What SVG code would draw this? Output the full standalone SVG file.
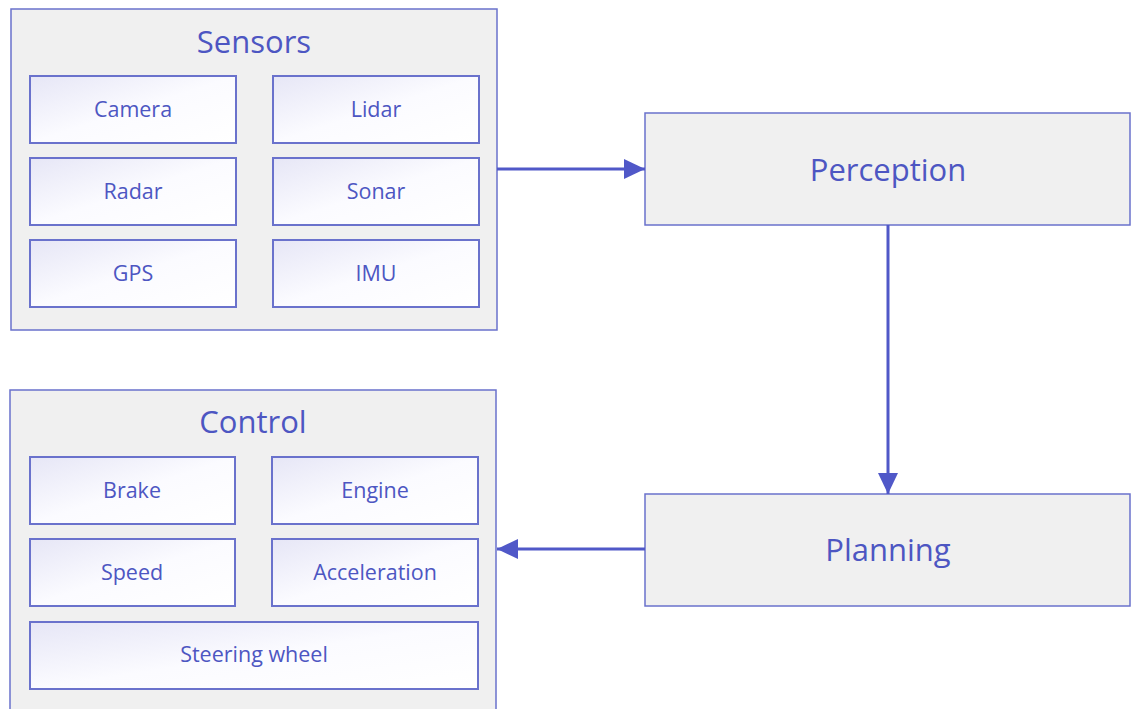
<svg xmlns="http://www.w3.org/2000/svg" width="1131" height="709" viewBox="0 0 1131 709">
<defs>
<linearGradient id="g" x1="0" y1="0" x2="1" y2="1">
<stop offset="0" stop-color="#e6e6f6"/>
<stop offset="0.5" stop-color="#fbfbff"/>
<stop offset="1" stop-color="#ffffff"/>
</linearGradient>
<marker id="ah" markerWidth="22" markerHeight="20" refX="21" refY="10" orient="auto" markerUnits="userSpaceOnUse">
<path d="M0,0 L21,10 L0,20 Z" fill="#5058c8"/>
</marker>
<style>
.outer{fill:#f0f0f0;stroke:#6a72cc;stroke-width:1.5}
.inner{fill:url(#g);stroke:#6a72cc;stroke-width:2}
.title{font-family:"Open Sans","Noto Sans",sans-serif;font-size:31px;fill:#4d56c2;text-anchor:middle}
.lbl{font-family:"Open Sans","Noto Sans",sans-serif;font-size:21.5px;fill:#4d56c2;text-anchor:middle}
.conn{stroke:#5058c8;stroke-width:3;fill:none}
</style>
</defs>
<rect width="1131" height="709" fill="#ffffff"/>
<g id="sensors">
<rect class="outer" x="11" y="9" width="486" height="321"/>
<text class="title" x="254" y="53">Sensors</text>
<g id="camera"><rect class="inner" x="30" y="76" width="206" height="67"/><text class="lbl" x="133" y="117">Camera</text></g>
<g id="lidar"><rect class="inner" x="273" y="76" width="206" height="67"/><text class="lbl" x="376" y="117">Lidar</text></g>
<g id="radar"><rect class="inner" x="30" y="158" width="206" height="67"/><text class="lbl" x="133" y="199">Radar</text></g>
<g id="sonar"><rect class="inner" x="273" y="158" width="206" height="67"/><text class="lbl" x="376" y="199">Sonar</text></g>
<g id="gps"><rect class="inner" x="30" y="240" width="206" height="67"/><text class="lbl" x="133" y="281">GPS</text></g>
<g id="imu"><rect class="inner" x="273" y="240" width="206" height="67"/><text class="lbl" x="376" y="281">IMU</text></g>
</g>
<g id="perception">
<rect class="outer" x="645" y="113" width="485" height="112"/>
<text class="title" x="888" y="181">Perception</text>
</g>
<g id="planning">
<rect class="outer" x="645" y="494" width="485" height="112"/>
<text class="title" x="888" y="561">Planning</text>
</g>
<g id="control">
<rect class="outer" x="10" y="390" width="486" height="330"/>
<text class="title" x="253" y="433">Control</text>
<g id="brake"><rect class="inner" x="30" y="457" width="205" height="67"/><text class="lbl" x="132" y="498">Brake</text></g>
<g id="engine"><rect class="inner" x="272" y="457" width="206" height="67"/><text class="lbl" x="375" y="498">Engine</text></g>
<g id="speed"><rect class="inner" x="30" y="539" width="205" height="67"/><text class="lbl" x="132" y="580">Speed</text></g>
<g id="acceleration"><rect class="inner" x="272" y="539" width="206" height="67"/><text class="lbl" x="375" y="580">Acceleration</text></g>
<g id="steering"><rect class="inner" x="30" y="622" width="448" height="67"/><text class="lbl" x="254" y="662">Steering wheel</text></g>
</g>
<g id="connectors">
<line class="conn" x1="497" y1="169" x2="645" y2="169" marker-end="url(#ah)"/>
<line class="conn" x1="888" y1="225" x2="888" y2="494" marker-end="url(#ah)"/>
<line class="conn" x1="645" y1="549" x2="497" y2="549" marker-end="url(#ah)"/>
</g>
</svg>
